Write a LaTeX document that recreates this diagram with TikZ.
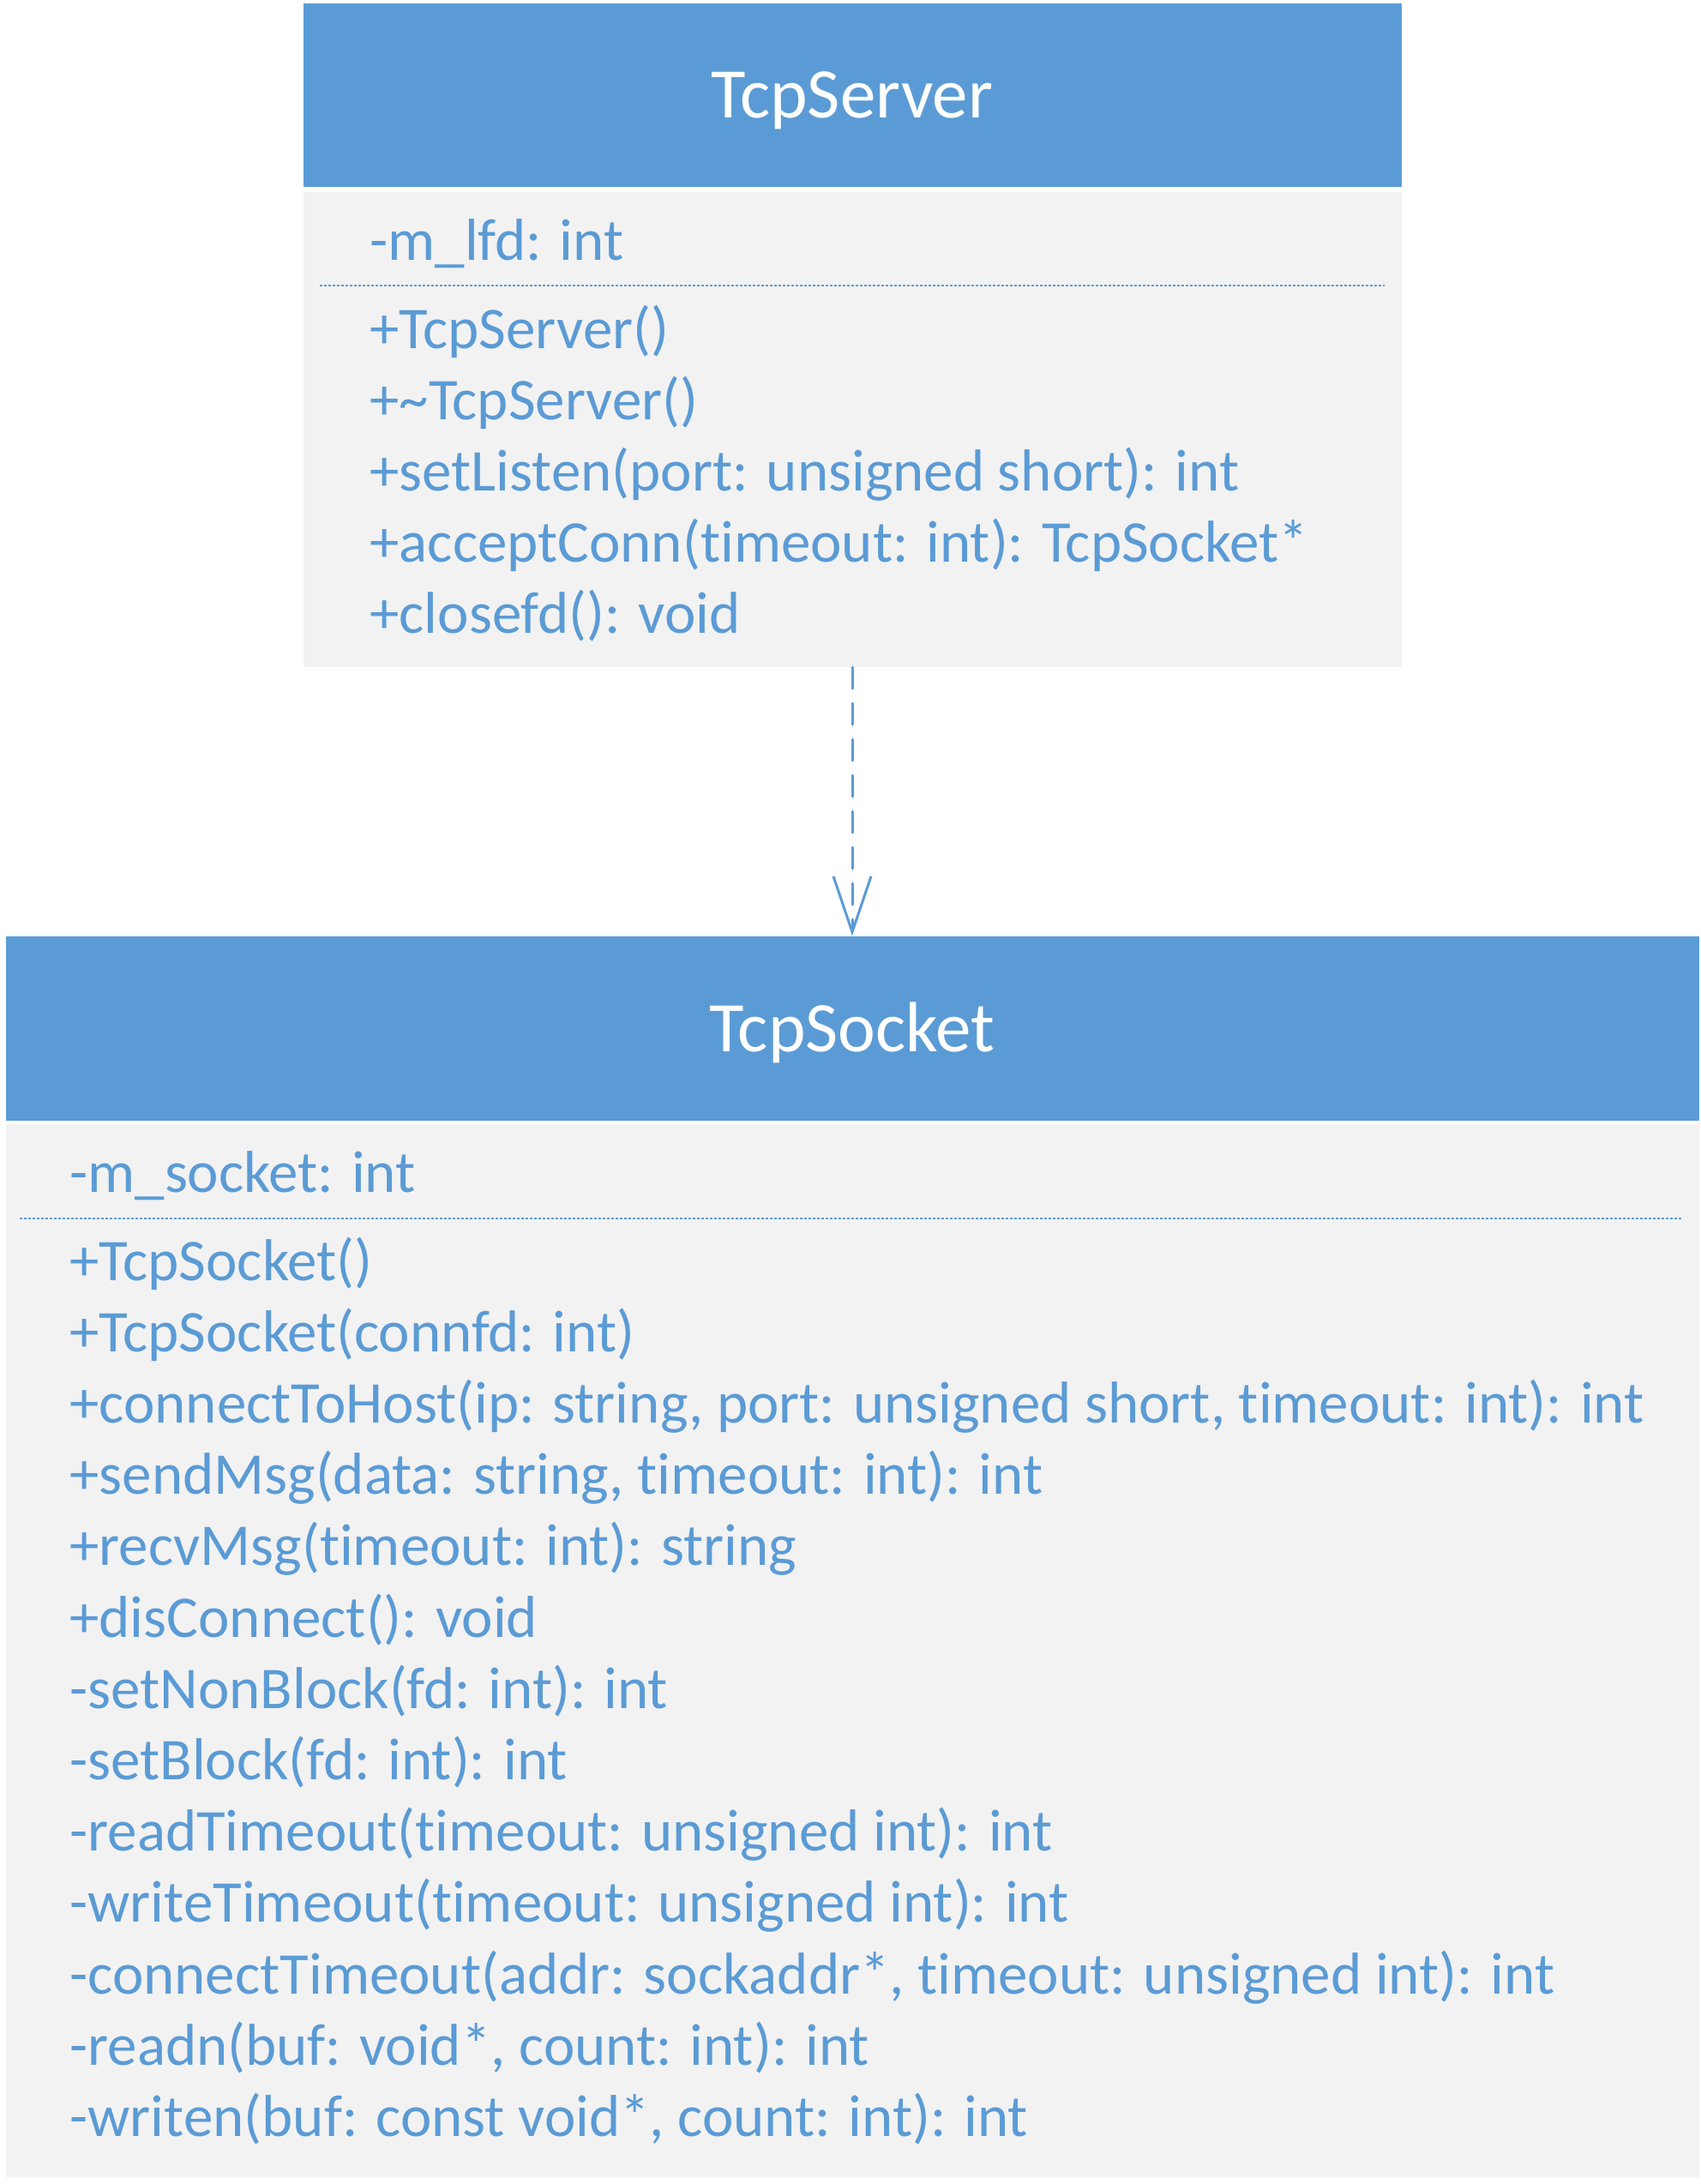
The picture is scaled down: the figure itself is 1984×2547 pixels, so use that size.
\documentclass[tikz,border=0pt]{standalone}
\usepackage{fontspec}
\setmainfont{Carlito}[Ligatures=NoCommon]
\usetikzlibrary{positioning,arrows.meta}

\definecolor{umlblue}{HTML}{5B9BD5}
\definecolor{umlgray}{HTML}{F2F2F2}

\tikzset{
  head/.style={fill=umlblue, text=white, inner sep=0pt, text height=26.7pt, text depth=0pt,
    font=\fontsize{41.5}{50}\selectfont},
  body/.style={fill=umlgray, inner sep=0pt},
  member/.style={anchor=base west, inner sep=0pt, text=umlblue, font=\fontsize{34.5}{42}\selectfont},
  sep/.style={draw=umlblue, line width=1.3pt, dash pattern=on 1.5pt off 1pt},
  dep/.style={draw=umlblue, line width=1.5pt, line cap=round, dash pattern=on 12.5pt off 8.5pt,
    -{Straight Barb[length=32.5pt, width=22pt, line width=1.5pt]}},
}

\begin{document}
\begin{tikzpicture}[x=0.5pt, y=-0.5pt]
  \useasboundingbox (0,0) rectangle (1984,2547);

  % TcpServer
  \node[head, minimum width=640.5pt, minimum height=107pt] (srv_head) at (994,111) {TcpServer};
  \node[body, minimum width=640.5pt, minimum height=277pt, below=2.5pt of srv_head] (srv_body) {};
  \draw[sep] (373,333) -- (1615,333);
  \node[member] (srv_attr) at (431,303) {-m\_lfd: int};
  \foreach \txt [count=\i from 0] in {+TcpServer(), +\textasciitilde TcpServer(),
      {+setListen(port: unsigned short): int}, {+acceptConn(timeout: int): TcpSocket*},
      {+closefd(): void}}
    \node[member] (srv_op\i) at (431,406+83.2*\i) {\txt};

  % TcpSocket
  \node[head, minimum width=987.5pt, minimum height=107.5pt] (sock_head) at (994,1199.5) {TcpSocket};
  \node[body, minimum width=987.5pt, minimum height=614pt, below=1.5pt of sock_head] (sock_body) {};
  \draw[sep] (23,1421) -- (1962,1421);
  \node[member] (sock_attr) at (81,1390) {-m\_socket: int};
  \foreach \txt [count=\i from 0] in {+TcpSocket(), {+TcpSocket(connfd: int)},
      {+connectToHost(ip: string, port: unsigned short, timeout: int): int},
      {+sendMsg(data: string, timeout: int): int}, {+recvMsg(timeout: int): string},
      {+disConnect(): void}, {-setNonBlock(fd: int): int}, {-setBlock(fd: int): int},
      {-readTimeout(timeout: unsigned int): int}, {-writeTimeout(timeout: unsigned int): int},
      {-connectTimeout(addr: sockaddr*, timeout: unsigned int): int},
      {-readn(buf: void*, count: int): int}, {-writen(buf: const void*, count: int): int}}
    \node[member] (sock_op\i) at (81,1493+83.2*\i) {\txt};

  % dependency
  \draw[dep] (srv_body) -- (sock_head);
\end{tikzpicture}
\end{document}
